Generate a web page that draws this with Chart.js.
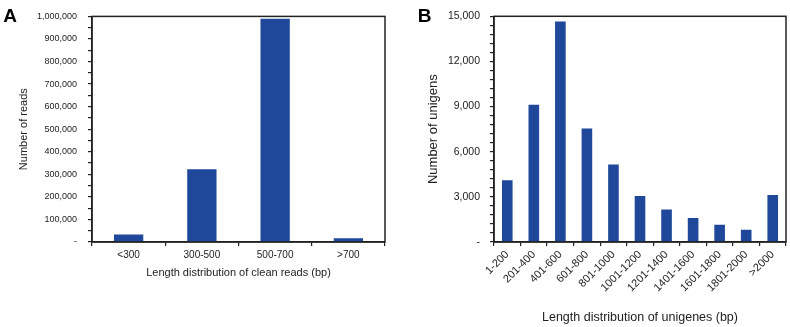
<!DOCTYPE html>
<html>
<head>
<meta charset="utf-8">
<script src="https://cdn.jsdelivr.net/npm/chart.js@4"></script>
<style>
  html, body { margin: 0; padding: 0; background: #fff; }
  .wrap { position: relative; width: 790px; height: 327px; }
  .wrap canvas { position: absolute; top: 0; }
</style>
</head>
<body>
<div class="wrap">
  <canvas id="chartA" width="395" height="327" style="left:0"></canvas>
  <canvas id="chartB" width="395" height="327" style="left:395px"></canvas>
</div>
<script>
// panel A: clean reads
const readLabels = ['<300', '300-500', '500-700', '>700'];
const readCounts = [33000, 323000, 990000, 17000];

// panel B: unigenes
const unigeneLabels = ['1-200', '201-400', '401-600', '601-800', '801-1000', '1001-1200',
  '1201-1400', '1401-1600', '1601-1800', '1801-2000', '>2000'];
const unigeneCounts = [4100, 9120, 14650, 7550, 5150, 3060, 2160, 1600, 1150, 820, 3120];

const BAR = '#1f479a';
const INK = '#222';
const FONT = "'Liberation Sans', Arial, sans-serif";

// box around the plot + the panel letter
const framePlugin = {
  id: 'frame',
  afterDraw(chart, args, opts) {
    const { ctx, chartArea: a } = chart;
    ctx.save();
    ctx.strokeStyle = INK;
    ctx.lineWidth = 1.5;
    ctx.strokeRect(a.left, a.top, a.right - a.left, a.bottom - a.top);
    ctx.fillStyle = '#000';
    ctx.font = 'bold 19px ' + FONT;
    ctx.textBaseline = 'alphabetic';
    ctx.fillText(opts.letter, opts.lx, 21.7);
    ctx.restore();
  }
};

function fmtTick(major) {
  return v => (v % major !== 0 ? '' : (v === 0 ? '-' : v.toLocaleString('en-US')));
}

function makeChart(id, c) {
  return new Chart(document.getElementById(id), {
    type: 'bar',
    data: {
      labels: c.labels,
      datasets: [{ data: c.values, backgroundColor: BAR, barPercentage: 0.4, categoryPercentage: 1 }],
    },
    options: {
      responsive: false, animation: false,
      layout: { padding: c.pad },
      plugins: { legend: { display: false }, tooltip: { enabled: false }, frame: { letter: c.letter, lx: c.lx } },
      scales: {
        x: {
          grid: { offset: true, drawOnChartArea: false, tickLength: 4, color: INK, lineWidth: 1.2 },
          border: { color: INK, width: 1.5 },
          ticks: { color: INK, font: { family: FONT, size: c.xTickSize }, padding: c.xTickPad,
                   maxRotation: c.rot, minRotation: c.rot, autoSkip: false },
          title: { display: true, text: c.xTitle, color: INK, font: { family: FONT, size: c.xTitleSize },
                   padding: { top: 0, bottom: c.xTitlePad } },
          afterFit: s => { s.height = 85; },
        },
        y: {
          min: 0, max: c.max,
          grid: { drawOnChartArea: false, tickLength: 4, color: INK, lineWidth: 1.2 },
          border: { color: INK, width: 1.5 },
          ticks: { stepSize: c.minor, color: INK, font: { family: FONT, size: c.yTickSize }, padding: c.yTickPad,
                   autoSkip: false, callback: fmtTick(c.major) },
          title: { display: true, text: c.yTitle, color: INK, font: { family: FONT, size: c.yTitleSize },
                   padding: { top: c.yTitlePad, bottom: 0 } },
          afterFit: s => { s.width = c.yWidth; },
        },
      },
    },
    plugins: [framePlugin],
  });
}

makeChart('chartA', {
  labels: readLabels, values: readCounts, letter: 'A', lx: 3.3,
  max: 1000000, major: 100000, minor: 50000,
  pad: { left: 0, top: 7, right: 10, bottom: 0 }, yWidth: 92,
  xTitle: 'Length distribution of clean reads (bp)', yTitle: 'Number of reads',
  xTickSize: 10, yTickSize: 9, xTickPad: 3, yTickPad: 11, rot: 0,
  xTitleSize: 11, xTitlePad: 47, yTitleSize: 11, yTitlePad: 17,
});

makeChart('chartB', {
  labels: unigeneLabels, values: unigeneCounts, letter: 'B', lx: 22.7,
  max: 15000, major: 3000, minor: 600,
  pad: { left: 0, top: 8, right: 4, bottom: 0 }, yWidth: 99,
  xTitle: 'Length distribution of unigenes (bp)', yTitle: 'Number of unigens',
  xTickSize: 11, yTickSize: 10.5, xTickPad: 2, yTickPad: 10, rot: 45,
  xTitleSize: 12.5, xTitlePad: 1.5, yTitleSize: 13, yTitlePad: 30.5,
});
</script>
</body>
</html>
